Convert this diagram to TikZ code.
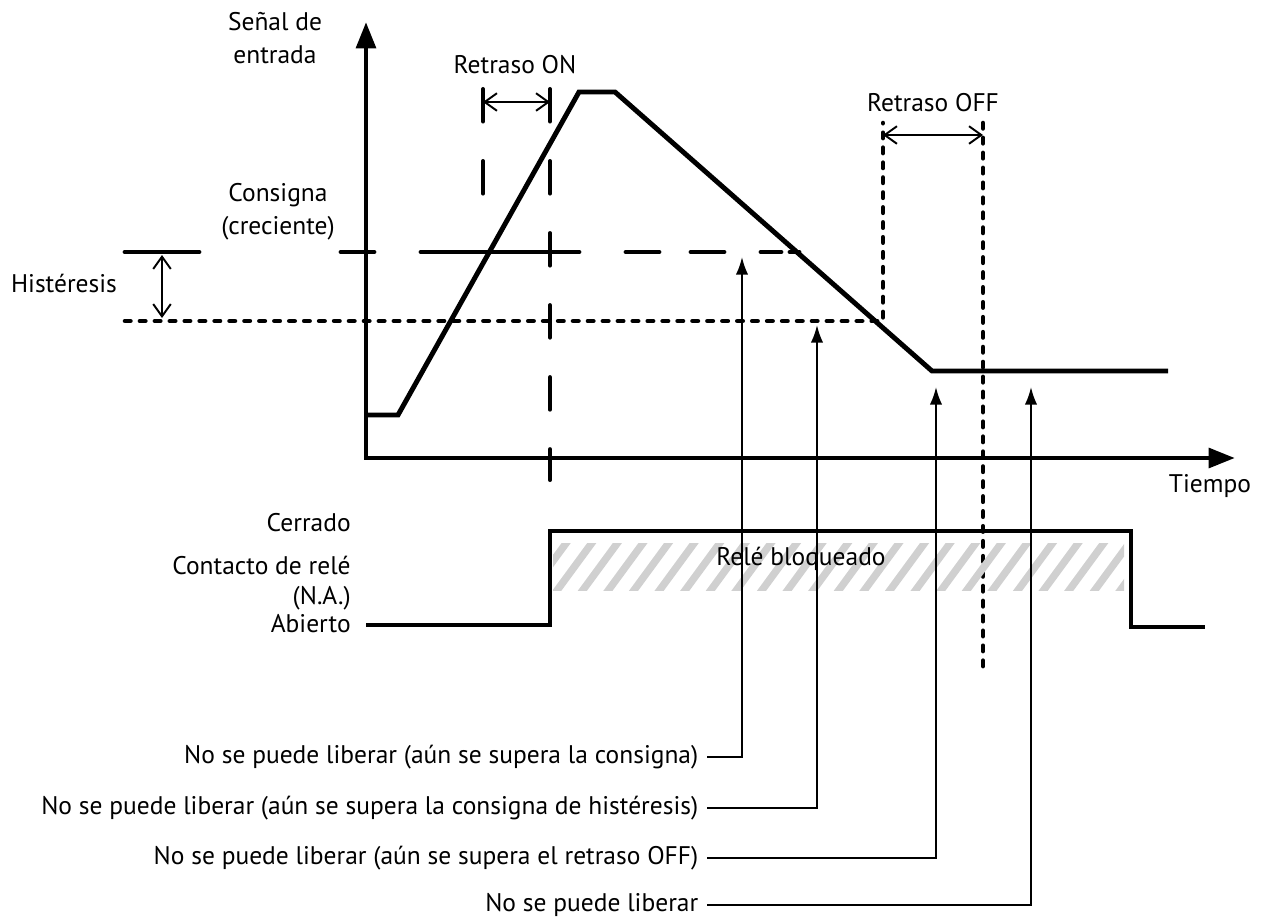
\documentclass[tikz,border=0pt]{standalone}
\usepackage{fontspec}
\setmainfont{PT Sans}
\usepackage{xcolor}
\definecolor{hatchgray}{RGB}{208,208,208}
\usetikzlibrary{arrows.meta,positioning}

\begin{document}
\begin{tikzpicture}[x=0.02cm, y=-0.02cm,
    txt/.style={font=\fontsize{14.5}{19}\selectfont, inner sep=0pt},
    note/.style={txt, anchor=east, outer xsep=5pt},
    heavy/.style={line width=2.8pt, line join=miter},
    longdash/.style={line width=2.3pt, line cap=round, dash pattern=on 18.5pt off 22.5pt},
    shortdash/.style={line width=2.6pt, line cap=round, dash pattern=on 3.1pt off 5.4pt},
    span/.style={line width=1.1pt, {Straight Barb[length=7pt,width=10pt]}-{Straight Barb[length=7pt,width=10pt]}},
    callout/.style={line width=1.1pt, -{Latex[length=10pt,width=7pt]}},
    axis/.style={line width=2.8pt, line join=miter, {Triangle[length=15pt,width=11pt]}-{Triangle[length=15pt,width=11pt]}}]
  \useasboundingbox (0,0) rectangle (1272,917);

  \coordinate (ytip) at (366,22);
  \coordinate (org) at (366,458);
  \coordinate (xtip) at (1235,458);
  \draw[axis] (ytip) -- (org) -- (xtip);
  \node[txt, align=center] (signal) at (275,38) {Señal de\\entrada};
  \node[txt] (tiempo) at (1210,486) {Tiempo};

  \draw[heavy] (366,415) -- (398,415) -- (579,92) -- (615,92) -- (932,371) -- (1168,371);

  \node[txt, align=center] (consigna) at (278,212) {Consigna\\(creciente)};
  \foreach \a/\b in {341/374,421/579,626/659,691/724,761/781,790/799}
    \draw[heavy, line cap=round] (\a,252) -- (\b,252);
  \draw[heavy, line cap=round] (125,252) -- (199,252);
  \draw[shortdash] (125,321) -- (883,321) -- (883,123);
  \draw[shortdash] (983,123) -- (983,670);
  \draw[span] (162,255) -- (162,318);
  \node[txt] (hyst) at (64,283) {Histéresis};

  \draw[longdash] (483,89) -- (483,195);
  \draw[longdash] (550,89) -- (550,480);
  \draw[span] (483,102) -- (550,102);
  \node[txt] (retON) at (515,65) {Retraso ON};
  \draw[span] (883,135) -- (983,135);
  \node[txt] (retOFF) at (933,103) {Retraso OFF};

  \begin{scope}
    \clip (553,543) rectangle (1124,590);
    \foreach \i in {-1,...,23}
      \draw[hatchgray, line width=4.2pt] (550+\i*25.6,600) -- ++(44,-60);
  \end{scope}
  \draw[heavy] (366,625) -- (550,625) -- (550,531) -- (1131,531) -- (1131,627) -- (1205,627);
  \node[txt] (blocked) at (801,559) {Relé bloqueado};
  \node[txt, anchor=east] (closed) at (351,523) {Cerrado};
  \node[txt, anchor=east] (contact) at (351,565) {Contacto de relé};
  \node[txt, anchor=east] (na) at (351,598) {(N.A.)};
  \node[txt, anchor=east] (open) at (351,624) {Abierto};

  \coordinate (tip1) at (742,257);
  \coordinate (tip2) at (817,325);
  \coordinate (tip3) at (936,387);
  \coordinate (tip4) at (1031,387);
  \node[note] (why1) at (707,757) {No se puede liberar (aún se supera la consigna)};
  \node[note] (why2) at (707,808) {No se puede liberar (aún se supera la consigna de histéresis)};
  \node[note] (why3) at (707,858) {No se puede liberar (aún se supera el retraso OFF)};
  \node[note] (why4) at (707,905) {No se puede liberar};
  \draw[callout] (why1.east) -| (tip1);
  \draw[callout] (why2.east) -| (tip2);
  \draw[callout] (why3.east) -| (tip3);
  \draw[callout] (why4.east) -| (tip4);
\end{tikzpicture}
\end{document}
